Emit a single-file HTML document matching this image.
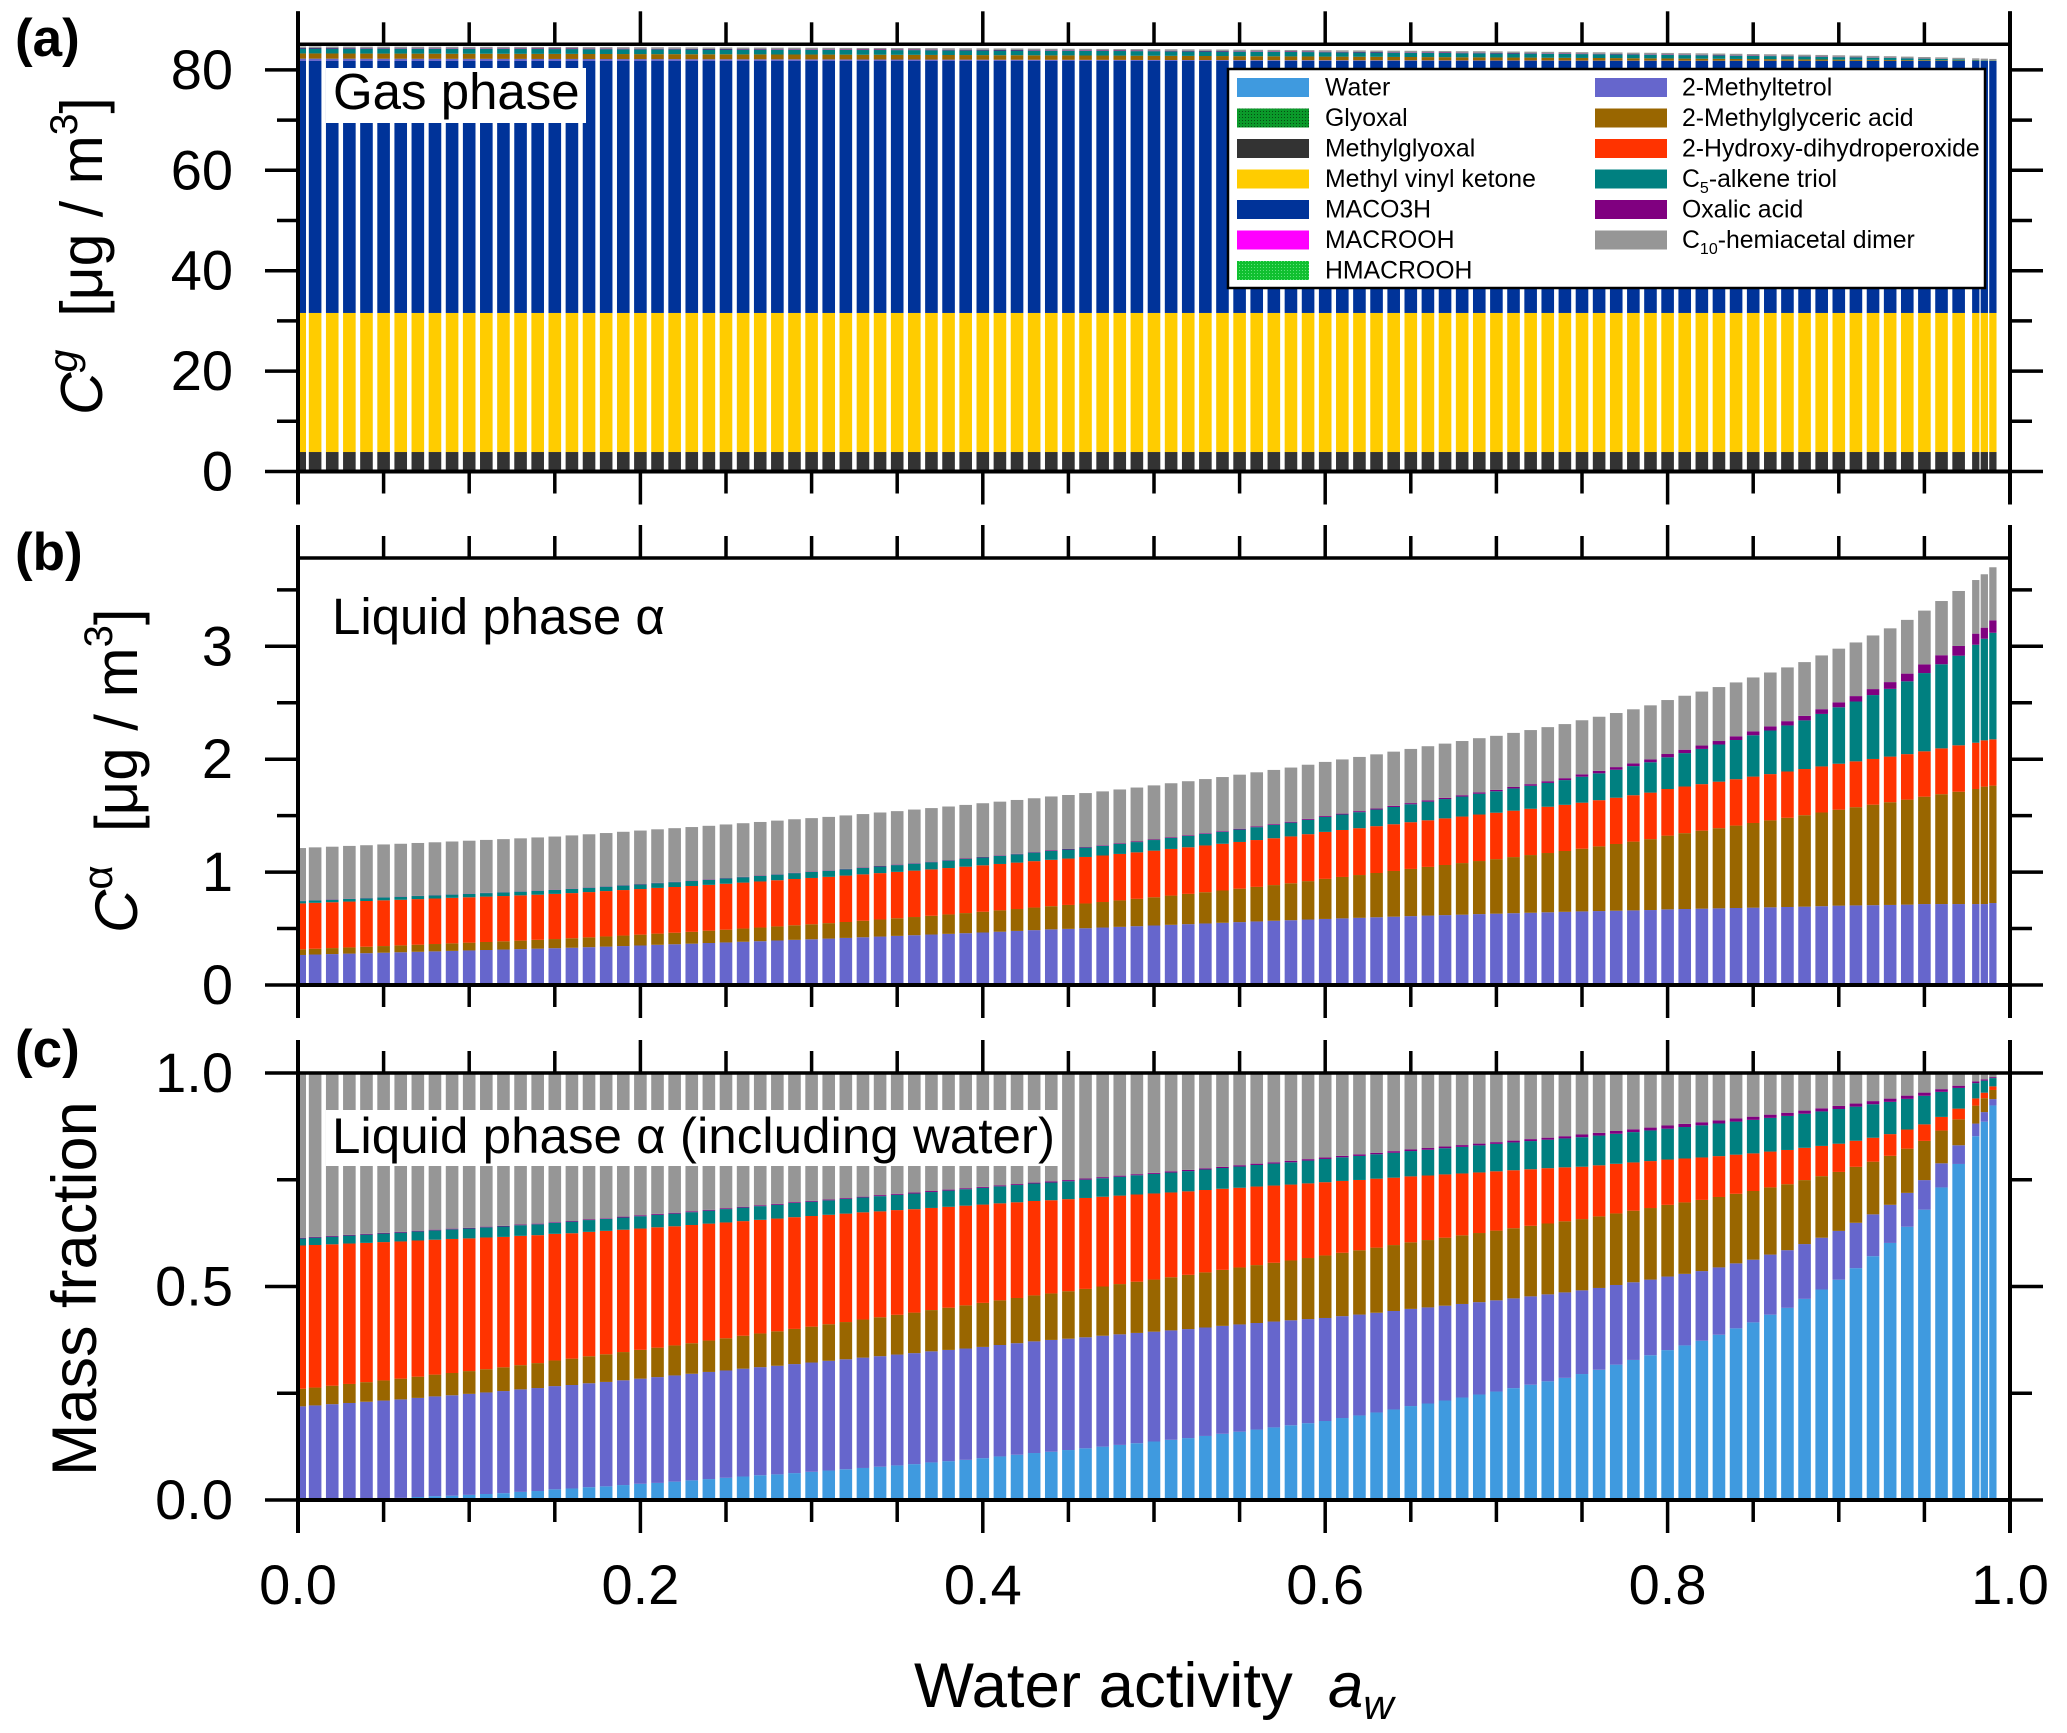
<!DOCTYPE html>
<html lang="en">
<head>
<meta charset="utf-8">
<title>Gas and liquid phase composition vs water activity</title>
<style>
html,body{margin:0;padding:0;background:#fff;}
svg{display:block;font-family:"Liberation Sans",sans-serif;}
</style>
</head>
<body>
<svg id="chart" xmlns="http://www.w3.org/2000/svg" width="2067" height="1733" viewBox="0 0 2067 1733">
<defs>
<clipPath id="clip-a"><rect x="298" y="44" width="1712" height="428"/></clipPath>
<clipPath id="clip-b"><rect x="298" y="558" width="1712" height="427"/></clipPath>
<clipPath id="clip-c"><rect x="298" y="1073" width="1712" height="427"/></clipPath>
<pattern id="hatch-glyoxal" width="3" height="3" patternUnits="userSpaceOnUse"><rect width="3" height="3" fill="#0a9a2a"/><rect width="1" height="1" fill="#064d14"/></pattern>
<pattern id="hatch-hmacrooh" width="3" height="3" patternUnits="userSpaceOnUse"><rect width="3" height="3" fill="#10c030"/><rect width="1" height="1" fill="#5fe07a"/></pattern>
</defs>
<g id="bars-a" clip-path="url(#clip-a)"></g>
<g id="bars-b" clip-path="url(#clip-b)"></g>
<g id="bars-c" clip-path="url(#clip-c)"></g>
<g id="axes"></g>

<text x="15" y="56" font-size="53" font-weight="bold">(a)</text>
<text x="15" y="570" font-size="53" font-weight="bold">(b)</text>
<text x="15" y="1067" font-size="53" font-weight="bold">(c)</text>

<text transform="translate(102,415) rotate(-90)" font-size="59"><tspan font-style="italic">C</tspan><tspan font-style="italic" font-size="41" dy="-25">g</tspan><tspan dy="25">&#160;&#160;[μg / m</tspan><tspan font-size="39" dy="-25">3</tspan><tspan dy="25">]</tspan></text>
<text transform="translate(137,933) rotate(-90)" font-size="60"><tspan font-style="italic">C</tspan><tspan font-size="42" dy="-25">α</tspan><tspan dy="25">&#160;&#160;[μg / m</tspan><tspan font-size="40" dy="-25">3</tspan><tspan dy="25">]</tspan></text>
<text transform="translate(96,1476) rotate(-90)" font-size="63">Mass fraction</text>
<text x="914" y="1707" font-size="63.5">Water activity&#160;&#160;<tspan font-style="italic">a</tspan><tspan font-style="italic" font-size="42" dy="12">w</tspan></text>

<rect x="326" y="68" width="260" height="55" fill="#fff"/>
<text x="333" y="109" font-size="51">Gas phase</text>
<text x="332" y="634" font-size="51">Liquid phase α</text>
<rect x="326" y="1110" width="732" height="56" fill="#fff"/>
<text x="332" y="1153" font-size="50" textLength="723" lengthAdjust="spacingAndGlyphs">Liquid phase α (including water)</text>

<g font-size="24.8">
<rect x="1228" y="69" width="757" height="219" fill="#fff" stroke="#000" stroke-width="2.5"/>
<g><rect x="1237" y="78" width="72" height="19" fill="#3f9adf"/><text x="1325" y="95.5">Water</text></g>
<g><rect x="1237" y="108.5" width="72" height="19" fill="url(#hatch-glyoxal)"/><text x="1325" y="126">Glyoxal</text></g>
<g><rect x="1237" y="139" width="72" height="19" fill="#333333"/><text x="1325" y="156.5">Methylglyoxal</text></g>
<g><rect x="1237" y="169.5" width="72" height="19" fill="#ffcc00"/><text x="1325" y="187">Methyl vinyl ketone</text></g>
<g><rect x="1237" y="200" width="72" height="19" fill="#003399"/><text x="1325" y="217.5">MACO3H</text></g>
<g><rect x="1237" y="230.5" width="72" height="19" fill="#ff00ff"/><text x="1325" y="248">MACROOH</text></g>
<g><rect x="1237" y="261" width="72" height="19" fill="url(#hatch-hmacrooh)"/><text x="1325" y="278.5">HMACROOH</text></g>
<g><rect x="1595" y="78" width="72" height="19" fill="#6666cc"/><text x="1682" y="95.5">2-Methyltetrol</text></g>
<g><rect x="1595" y="108.5" width="72" height="19" fill="#996600"/><text x="1682" y="126">2-Methylglyceric acid</text></g>
<g><rect x="1595" y="139" width="72" height="19" fill="#ff3300"/><text x="1682" y="156.5">2-Hydroxy-dihydroperoxide</text></g>
<g><rect x="1595" y="169.5" width="72" height="19" fill="#008080"/><text x="1682" y="187">C<tspan font-size="16" dy="6">5</tspan><tspan dy="-6">-alkene triol</tspan></text></g>
<g><rect x="1595" y="200" width="72" height="19" fill="#800080"/><text x="1682" y="217.5">Oxalic acid</text></g>
<g><rect x="1595" y="230.5" width="72" height="19" fill="#969696"/><text x="1682" y="248">C<tspan font-size="16" dy="6">10</tspan><tspan dy="-6">-hemiacetal dimer</tspan></text></g>
</g>
</svg>
<script>
// Water activity categories (x position of each bar)
const waterActivity = [
0.001,0.01,0.02,0.03,0.04,0.05,0.06,0.07,0.08,0.09,
0.10,0.11,0.12,0.13,0.14,0.15,0.16,0.17,0.18,0.19,
0.20,0.21,0.22,0.23,0.24,0.25,0.26,0.27,0.28,0.29,
0.30,0.31,0.32,0.33,0.34,0.35,0.36,0.37,0.38,0.39,
0.40,0.41,0.42,0.43,0.44,0.45,0.46,0.47,0.48,0.49,
0.50,0.51,0.52,0.53,0.54,0.55,0.56,0.57,0.58,0.59,
0.60,0.61,0.62,0.63,0.64,0.65,0.66,0.67,0.68,0.69,
0.70,0.71,0.72,0.73,0.74,0.75,0.76,0.77,0.78,0.79,
0.80,0.81,0.82,0.83,0.84,0.85,0.86,0.87,0.88,0.89,
0.90,0.91,0.92,0.93,0.94,0.95,0.96,0.97,0.98,0.985,0.99];

// Panel (a): gas phase concentrations
const gasGlyoxal = [
.04,.04,.04,.04,.04,.04,.04,.04,.04,.04,.04,.04,.04,.04,.04,.04,.04,.04,.04,.04,
.04,.04,.04,.04,.04,.04,.04,.04,.04,.04,.04,.04,.04,.04,.04,.04,.04,.04,.04,.04,
.04,.04,.04,.04,.04,.04,.04,.04,.04,.04,.04,.04,.04,.04,.04,.04,.04,.04,.04,.04,
.04,.04,.04,.04,.04,.04,.04,.04,.04,.04,.04,.04,.04,.04,.04,.04,.04,.04,.04,.04,
.04,.04,.04,.04,.04,.04,.04,.04,.04,.04,.04,.04,.04,.04,.04,.04,.04,.04,.04,.04,.04];
const gasMethylglyoxal = [
3.84,3.84,3.84,3.84,3.84,3.84,3.84,3.84,3.84,3.84,3.84,3.84,3.84,3.84,3.84,3.84,3.84,3.84,3.84,3.84,
3.84,3.84,3.84,3.84,3.84,3.84,3.84,3.84,3.84,3.84,3.84,3.84,3.84,3.84,3.84,3.84,3.84,3.84,3.84,3.84,
3.84,3.84,3.84,3.84,3.84,3.84,3.84,3.84,3.84,3.84,3.84,3.84,3.84,3.84,3.84,3.84,3.84,3.84,3.84,3.84,
3.84,3.84,3.84,3.84,3.84,3.84,3.84,3.84,3.84,3.84,3.84,3.84,3.84,3.84,3.84,3.84,3.84,3.84,3.84,3.84,
3.84,3.84,3.84,3.84,3.84,3.84,3.84,3.84,3.84,3.84,3.84,3.84,3.84,3.84,3.84,3.84,3.84,3.84,3.84,3.84,3.84];
const gasMethylVinylKetone = [
27.7,27.7,27.7,27.7,27.7,27.7,27.7,27.7,27.7,27.7,27.7,27.7,27.7,27.7,27.7,27.7,27.7,27.7,27.7,27.7,
27.7,27.7,27.7,27.7,27.7,27.7,27.7,27.7,27.7,27.7,27.7,27.7,27.7,27.7,27.7,27.7,27.7,27.7,27.7,27.7,
27.7,27.7,27.7,27.7,27.7,27.7,27.7,27.7,27.7,27.7,27.7,27.7,27.7,27.7,27.7,27.7,27.7,27.7,27.7,27.7,
27.7,27.7,27.7,27.7,27.7,27.7,27.7,27.7,27.7,27.7,27.7,27.7,27.7,27.7,27.7,27.7,27.7,27.7,27.7,27.7,
27.7,27.7,27.7,27.7,27.7,27.7,27.7,27.7,27.7,27.7,27.7,27.7,27.7,27.7,27.7,27.7,27.7,27.7,27.7,27.7,27.7];
const gasMaco3h = [
50.2,50.2,50.2,50.2,50.2,50.2,50.2,50.2,50.2,50.2,50.2,50.2,50.2,50.2,50.2,50.2,50.2,50.2,50.2,50.2,
50.2,50.2,50.2,50.2,50.2,50.2,50.2,50.2,50.2,50.2,50.2,50.2,50.2,50.2,50.2,50.2,50.2,50.2,50.2,50.2,
50.2,50.2,50.2,50.2,50.2,50.2,50.2,50.2,50.2,50.2,50.2,50.2,50.2,50.2,50.2,50.2,50.2,50.2,50.2,50.2,
50.2,50.2,50.2,50.2,50.2,50.2,50.2,50.2,50.2,50.2,50.2,50.2,50.2,50.2,50.2,50.2,50.2,50.2,50.2,50.2,
50.2,50.2,50.2,50.2,50.2,50.2,50.2,50.2,50.2,50.2,50.2,50.2,50.2,50.2,50.2,50.2,50.2,50.2,50.2,50.2,50.2];
const gasTetrol = [
.46,.46,.45,.45,.44,.44,.44,.43,.43,.42,
.42,.42,.41,.41,.4,.4,.4,.39,.39,.38,
.38,.37,.37,.36,.35,.35,.34,.34,.33,.33,
.32,.32,.31,.3,.3,.29,.29,.28,.27,.27,
.26,.25,.25,.24,.23,.23,.22,.22,.21,.2,
.2,.19,.19,.18,.18,.17,.16,.16,.15,.15,
.14,.14,.13,.13,.12,.12,.11,.11,.1,.1,
.09,.09,.09,.08,.08,.07,.07,.07,.06,.06,
.06,.05,.05,.05,.04,.04,.04,.04,.03,.03,
.02,.02,.02,.02,.01,.01,.01,.01,.01,.01,0];
const gasGlycericAcid = [
1.04,1.04,1.04,1.03,1.03,1.03,1.03,1.03,1.02,1.02,
1.02,1.02,1.02,1.01,1.01,1.01,1.01,1,1,1,
.99,.99,.99,.98,.98,.98,.97,.97,.96,.96,
.96,.95,.95,.94,.94,.93,.93,.92,.92,.91,
.91,.9,.9,.89,.88,.88,.87,.86,.86,.85,
.84,.83,.82,.81,.8,.79,.78,.77,.76,.75,
.73,.72,.71,.7,.68,.67,.66,.65,.63,.62,
.61,.59,.58,.56,.55,.53,.52,.5,.48,.46,
.44,.42,.4,.38,.36,.34,.32,.3,.28,.26,
.24,.22,.2,.18,.16,.14,.12,.09,.07,.05,.05];
const gasTriol = [
.98,.98,.98,.98,.98,.98,.97,.97,.97,.97,
.97,.97,.97,.97,.97,.96,.96,.96,.96,.96,
.96,.96,.96,.96,.95,.95,.95,.95,.95,.95,
.95,.95,.94,.94,.94,.94,.94,.94,.93,.93,
.93,.93,.93,.92,.92,.92,.92,.91,.91,.91,
.91,.9,.9,.9,.89,.89,.89,.88,.88,.87,
.87,.86,.86,.85,.85,.84,.84,.83,.82,.82,
.81,.8,.8,.79,.78,.77,.76,.75,.74,.73,
.72,.7,.69,.67,.65,.63,.61,.59,.57,.54,
.5,.47,.43,.4,.36,.31,.26,.21,.13,.1,.06];
const gasOxalic = [
.11,.11,.11,.11,.11,.11,.11,.11,.11,.11,
.11,.11,.11,.11,.11,.11,.11,.11,.11,.11,
.11,.11,.11,.11,.11,.11,.11,.11,.11,.11,
.11,.11,.11,.11,.11,.11,.11,.11,.11,.11,
.11,.11,.11,.11,.11,.11,.11,.11,.11,.11,
.11,.11,.11,.11,.11,.1,.1,.1,.1,.1,
.1,.1,.1,.1,.1,.1,.1,.1,.1,.1,
.1,.1,.09,.09,.09,.09,.08,.08,.08,.08,
.08,.08,.08,.08,.08,.07,.07,.07,.07,.07,
.07,.06,.06,.05,.04,.03,.03,.02,.01,.01,0];
const gasDimer = [
.3,.3,.3,.3,.3,.3,.3,.3,.3,.3,.3,.3,.3,.3,.3,.3,.3,.3,.3,.3,
.3,.3,.3,.3,.3,.3,.3,.3,.3,.3,.3,.3,.3,.3,.3,.3,.3,.3,.3,.3,
.3,.3,.3,.3,.3,.3,.3,.3,.3,.3,.3,.3,.3,.3,.3,.3,.3,.3,.3,.3,
.3,.3,.3,.3,.3,.3,.3,.3,.3,.3,.3,.3,.3,.3,.3,.3,.3,.3,.3,.3,
.3,.3,.3,.3,.3,.3,.3,.3,.3,.3,.3,.3,.3,.3,.3,.3,.3,.3,.3,.3,.3];

// Panel (b): liquid phase concentrations
const liquidTetrol = [
.266,.27,.274,.278,.282,.286,.29,.294,.298,.302,
.306,.31,.314,.318,.322,.326,.33,.335,.34,.345,
.35,.356,.361,.366,.372,.377,.383,.388,.394,.4,
.405,.411,.417,.423,.429,.435,.441,.447,.453,.459,
.465,.472,.479,.486,.493,.497,.503,.509,.515,.521,
.527,.533,.539,.545,.551,.557,.563,.569,.574,.58,
.585,.59,.595,.6,.605,.61,.615,.619,.623,.628,
.632,.636,.64,.644,.648,.652,.655,.658,.661,.664,
.67,.673,.676,.679,.682,.685,.688,.691,.694,.698,
.703,.705,.707,.709,.712,.717,.717,.717,.717,.717,.726];
const liquidGlycericAcid = [
.05,.051,.053,.055,.057,.059,.061,.063,.065,.067,
.069,.071,.073,.075,.078,.081,.084,.087,.09,.093,
.096,.099,.102,.105,.109,.113,.117,.121,.125,.129,
.133,.137,.141,.146,.151,.156,.161,.166,.172,.178,
.184,.189,.194,.2,.205,.212,.219,.226,.234,.242,
.25,.259,.268,.277,.286,.296,.306,.316,.327,.34,
.355,.367,.379,.392,.405,.418,.431,.444,.457,.47,
.483,.497,.511,.525,.539,.555,.573,.591,.609,.628,
.653,.672,.691,.71,.73,.75,.77,.79,.81,.83,
.85,.87,.89,.91,.93,.951,.973,.995,1.019,1.04,1.04];
const liquidHydroxyPeroxide = [
.407,.407,.406,.406,.405,.405,.404,.404,.403,.403,
.402,.402,.401,.401,.4,.4,.4,.401,.402,.403,
.404,.405,.405,.406,.406,.407,.407,.408,.409,.41,
.41,.41,.411,.411,.411,.411,.411,.411,.411,.411,
.411,.411,.411,.411,.411,.411,.412,.412,.412,.412,
.413,.413,.413,.414,.414,.414,.415,.415,.415,.416,
.416,.416,.415,.415,.414,.414,.413,.413,.412,.412,
.411,.411,.41,.41,.409,.408,.409,.41,.411,.412,
.413,.413,.412,.412,.411,.411,.41,.41,.409,.408,
.407,.406,.405,.404,.403,.402,.406,.411,.41,.41,.41];
const liquidTriol = [
.02,.021,.022,.023,.024,.025,.026,.027,.028,.029,
.03,.031,.032,.033,.034,.035,.037,.038,.039,.04,
.041,.042,.043,.044,.045,.047,.048,.049,.05,.052,
.053,.054,.056,.057,.059,.06,.062,.064,.066,.068,
.07,.072,.074,.076,.078,.08,.083,.085,.088,.091,
.094,.097,.1,.103,.106,.11,.114,.118,.122,.127,
.132,.137,.142,.147,.153,.159,.165,.171,.177,.184,
.19,.197,.204,.211,.219,.23,.238,.248,.258,.269,
.281,.296,.312,.329,.347,.366,.386,.408,.431,.465,
.5,.53,.566,.6,.645,.693,.745,.794,.868,.9,.944];
const liquidOxalic = [
.002,.002,.002,.002,.002,.002,.002,.002,.002,.002,
.002,.002,.002,.002,.002,.002,.002,.002,.002,.003,
.003,.003,.003,.003,.003,.003,.003,.003,.003,.003,
.003,.003,.003,.003,.004,.004,.004,.004,.004,.004,
.004,.004,.004,.004,.005,.005,.005,.005,.005,.005,
.005,.006,.006,.006,.006,.007,.007,.007,.008,.008,
.008,.008,.009,.009,.01,.01,.011,.011,.012,.012,
.012,.013,.014,.015,.017,.021,.022,.023,.024,.025,
.029,.03,.03,.031,.033,.035,.037,.038,.04,.042,
.044,.048,.053,.06,.068,.077,.08,.086,.098,.098,.11];
const liquidDimer = [
.468,.468,.468,.468,.468,.468,.468,.468,.468,.468,
.469,.469,.47,.47,.471,.471,.472,.472,.473,.473,
.474,.474,.475,.475,.475,.475,.475,.475,.475,.474,
.474,.474,.474,.474,.474,.474,.475,.475,.475,.475,
.476,.476,.477,.477,.478,.478,.478,.478,.478,.478,
.479,.479,.479,.479,.479,.479,.479,.48,.48,.48,
.48,.48,.48,.48,.48,.48,.48,.48,.48,.48,
.479,.479,.479,.479,.479,.479,.479,.479,.479,.479,
.478,.478,.478,.478,.477,.477,.477,.476,.476,.476,
.475,.475,.475,.476,.476,.476,.48,.487,.475,.473,.47];

// Panel (c): water mass fraction (other species are scaled by their panel (b) share)
const waterFraction = [
0,0,.001,.002,.003,.004,.005,.007,.009,.01,
.012,.014,.016,.019,.021,.025,.027,.03,.032,.035,
.038,.04,.043,.046,.049,.052,.055,.058,.06,.063,
.066,.069,.072,.075,.078,.081,.084,.088,.091,.094,
.098,.102,.106,.11,.113,.117,.121,.125,.129,.133,
.137,.141,.145,.15,.155,.16,.165,.17,.175,.18,
.185,.192,.198,.205,.212,.22,.226,.233,.24,.247,
.254,.262,.27,.278,.286,.295,.305,.317,.328,.339,
.351,.362,.373,.387,.402,.416,.434,.45,.471,.493,
.516,.543,.571,.602,.64,.68,.732,.787,.852,.886,.924];

// Tick values and labels
const xMinorTicks = [0.05,0.1,0.15,0.25,0.3,0.35,0.45,0.5,0.55,0.65,0.7,0.75,0.85,0.9,0.95];
const xMajorTicks = [0,0.2,0.4,0.6,0.8,1];
const xTickLabels = ["0.0","0.2","0.4","0.6","0.8","1.0"];
const yMajorTicksA = [0,20,40,60,80];
const yMinorTicksA = [10,30,50,70];
const yTickLabelsA = ["0","20","40","60","80"];
const yMajorTicksB = [0,1,2,3];
const yMinorTicksB = [0.5,1.5,2.5,3.5];
const yTickLabelsB = ["0","1","2","3"];
const yMajorTicksC = [0,0.5,1];
const yMinorTicksC = [0.25,0.75];
const yTickLabelsC = ["0.0","0.5","1.0"];

const colorWater = "#3f9adf", colorGlyoxal = "#0a8a2a", colorMgly = "#333333", colorMvk = "#ffcc00",
      colorMaco3h = "#003399", colorTetrol = "#6666cc", colorGlyceric = "#996600", colorHydroxy = "#ff3300",
      colorTriol = "#008080", colorOxalic = "#800080", colorDimer = "#969696";

const SVG_NS = "http://www.w3.org/2000/svg";
const X0 = 298, X1 = 2010;
function xScale(v){ return X0 + (X1 - X0) * v; }
function yScaleA(v){ return 471.5 - 5.02 * v; }
function yScaleB(v){ return 985 - 112.9 * v; }
function yScaleC(v){ return 1500 - 427 * v; }

function barWidth(aw){ return aw >= 0.975 ? 7.3 : 12.6; }

function drawStack(groupId, yScale, seriesList){
  const group = document.getElementById(groupId);
  waterActivity.forEach(function(aw, i){
    let cumulative = 0;
    const w = barWidth(aw);
    const x = xScale(aw) - w / 2;
    seriesList.forEach(function(s){
      const v = s.values[i];
      const yBottom = yScale(cumulative);
      cumulative += v;
      const yTop = yScale(cumulative);
      if (v <= 0) return;
      const el = document.createElementNS(SVG_NS, "rect");
      el.setAttribute("x", x.toFixed(2));
      el.setAttribute("y", yTop.toFixed(2));
      el.setAttribute("width", w);
      el.setAttribute("height", (yBottom - yTop).toFixed(2));
      el.setAttribute("fill", s.color);
      
      
      group.appendChild(el);
    });
  });
}

function massFraction(values){
  return values.map(function(v, i){
    const total = liquidTetrol[i] + liquidGlycericAcid[i] + liquidHydroxyPeroxide[i] + liquidTriol[i] + liquidOxalic[i] + liquidDimer[i];
    return (1 - waterFraction[i]) * v / total;
  });
}

drawStack("bars-a", yScaleA, [
  {values: gasGlyoxal, color: colorGlyoxal},
  {values: gasMethylglyoxal, color: colorMgly},
  {values: gasMethylVinylKetone, color: colorMvk},
  {values: gasMaco3h, color: colorMaco3h},
  {values: gasTetrol, color: colorTetrol},
  {values: gasGlycericAcid, color: colorGlyceric},
  {values: gasTriol, color: colorTriol},
  {values: gasOxalic, color: colorOxalic},
  {values: gasDimer, color: colorDimer}
]);
drawStack("bars-b", yScaleB, [
  {values: liquidTetrol, color: colorTetrol},
  {values: liquidGlycericAcid, color: colorGlyceric},
  {values: liquidHydroxyPeroxide, color: colorHydroxy},
  {values: liquidTriol, color: colorTriol},
  {values: liquidOxalic, color: colorOxalic},
  {values: liquidDimer, color: colorDimer}
]);
drawStack("bars-c", yScaleC, [
  {values: waterFraction, color: colorWater},
  {values: massFraction(liquidTetrol), color: colorTetrol},
  {values: massFraction(liquidGlycericAcid), color: colorGlyceric},
  {values: massFraction(liquidHydroxyPeroxide), color: colorHydroxy},
  {values: massFraction(liquidTriol), color: colorTriol},
  {values: massFraction(liquidOxalic), color: colorOxalic},
  {values: massFraction(liquidDimer), color: colorDimer}
]);

const axesGroup = document.getElementById("axes");

function line(x1, y1, x2, y2, width, name){
  const el = document.createElementNS(SVG_NS, "line");
  el.setAttribute("x1", x1);
  el.setAttribute("y1", y1);
  el.setAttribute("x2", x2);
  el.setAttribute("y2", y2);
  el.setAttribute("stroke", "#000");
  el.setAttribute("stroke-width", width);
  
  
  axesGroup.appendChild(el);
}

function label(x, y, text, anchor, name){
  const el = document.createElementNS(SVG_NS, "text");
  el.setAttribute("x", x);
  el.setAttribute("y", y);
  el.setAttribute("text-anchor", anchor);
  el.setAttribute("font-size", "56");
  el.textContent = text;
  
  
  axesGroup.appendChild(el);
}

function drawAxes(top, bottom, yScale, majors, minors, labels){
  line(X0, top, X1, top, 3.5, "plot-top-border");
  line(X0, bottom, X1, bottom, 4, "plot-bottom-border");
  line(X0, top - 33, X0, bottom + 33, 4, "plot-left-border");
  line(X1, top - 33, X1, bottom + 33, 4, "plot-right-border");
  xMajorTicks.forEach(function(t){
    line(xScale(t), top - 33, xScale(t), top, 3.5, "x-major-tick-top");
    line(xScale(t), bottom, xScale(t), bottom + 33, 3.5, "x-major-tick-bottom");
  });
  xMinorTicks.forEach(function(t){
    line(xScale(t), top - 22, xScale(t), top, 3.5, "x-minor-tick-top");
    line(xScale(t), bottom, xScale(t), bottom + 22, 3.5, "x-minor-tick-bottom");
  });
  majors.forEach(function(t, i){
    line(X0 - 33, yScale(t), X0, yScale(t), 3.5, "y-major-tick-left");
    line(X1, yScale(t), X1 + 33, yScale(t), 3.5, "y-major-tick-right");
    label(233, yScale(t) + 19, labels[i], "end", "y-tick-label");
  });
  minors.forEach(function(t){
    line(X0 - 21, yScale(t), X0, yScale(t), 3.5, "y-minor-tick-left");
    line(X1, yScale(t), X1 + 22, yScale(t), 3.5, "y-minor-tick-right");
  });
}

drawAxes(44.3, 471.5, yScaleA, yMajorTicksA, yMinorTicksA, yTickLabelsA);
drawAxes(558, 985, yScaleB, yMajorTicksB, yMinorTicksB, yTickLabelsB);
drawAxes(1073, 1500, yScaleC, yMajorTicksC, yMinorTicksC, yTickLabelsC);
xMajorTicks.forEach(function(t, i){
  label(xScale(t), 1604, xTickLabels[i], "middle", "x-tick-label");
});
</script>
</body>
</html>
